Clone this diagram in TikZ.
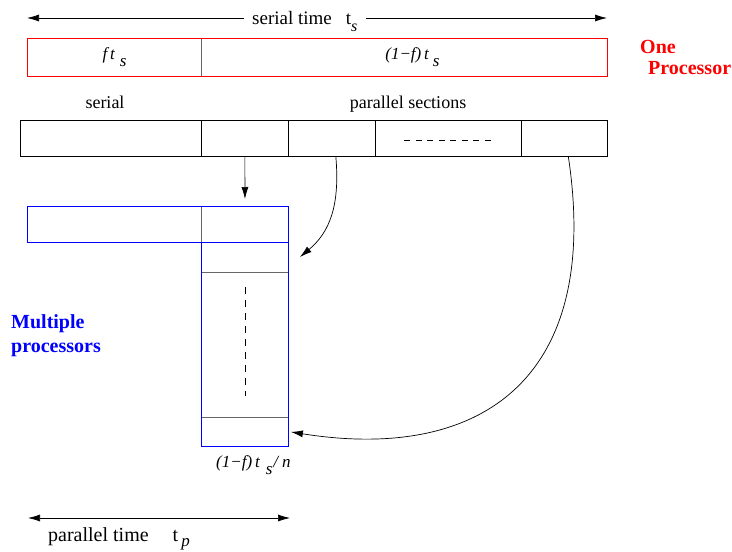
\documentclass[tikz,border=0pt]{standalone}
\usepackage{fontspec}
\setmainfont{Liberation Serif}
\newfontfamily\tmsfont{Liberation Serif}
\usetikzlibrary{arrows.meta}
\begin{document}
\begin{tikzpicture}[x=1pt,y=-1pt,
  >={Latex[length=12pt,width=7pt]},
  cell/.style={draw=black!60, line width=0.9pt, inner sep=0pt, anchor=north west},
  rowcell/.style={draw=black, line width=0.7pt, inner sep=0pt, anchor=north west},
  lbl/.style={font=\tmsfont\fontsize{18}{21}\selectfont, inner sep=0pt},
  itl/.style={font=\tmsfont\fontsize{17}{20}\selectfont\itshape, inner sep=0pt},
  boldlbl/.style={font=\tmsfont\fontsize{20}{23}\selectfont\bfseries, align=left, inner sep=0pt},
  conn/.style={->, line width=0.7pt}]
\useasboundingbox (0,0) rectangle (732,552);

% top arrow: serial time
\coordinate (tl) at (27,18);
\coordinate (tr) at (607,18);
\node[lbl, font=\tmsfont\fontsize{19}{22}\selectfont, inner xsep=8pt, anchor=base west] (ts) at (244,24)
  {serial time\hspace{14pt}t\raisebox{-7pt}{\fontsize{16}{16}\selectfont\itshape s}};
\draw[<-, line width=0.7pt] (tl) -- (ts.west |- tl);
\draw[->, line width=0.7pt] (ts.east |- tr) -- (tr);

% one processor box
\node[cell, minimum width=174pt, minimum height=38pt, itl] (r0) at (27,38)
  {f\,t\hspace{5pt}\raisebox{-7pt}{s}};
\node[cell, minimum width=406pt, minimum height=38pt, itl] (r1) at (201,38)
  {\hspace*{16pt}(1−f)\,t\hspace{4pt}\raisebox{-7pt}{s}};
\draw[red, line width=1pt] (r0.north west) rectangle (r1.south east);
\node[boldlbl, red, anchor=north west] (onep) at (640,40) {One\\[-2pt]\hspace{8pt}Processor};

% second row
\node[lbl, anchor=base] (serl) at (105,108) {serial};
\node[lbl, anchor=base] (parl) at (408,108) {parallel sections};
\node[rowcell, minimum width=181pt, minimum height=36pt] (s0) at (20,120) {};
\node[rowcell, minimum width=87pt, minimum height=36pt] (s1) at (201,120) {};
\node[rowcell, minimum width=87pt, minimum height=36pt] (s2) at (288,120) {};
\node[rowcell, minimum width=146pt, minimum height=36pt] (s3) at (375,120) {};
\node[rowcell, minimum width=86pt, minimum height=36pt] (s4) at (521,120) {};
\draw[line width=0.6pt, dash pattern=on 6pt off 5.5pt] (404,140) -- (494,140);

% multiple processors
\node[cell, minimum width=174pt, minimum height=36pt] (b0) at (27,206) {};
\node[cell, minimum width=87pt, minimum height=36pt] (b1) at (201,206) {};
\node[cell, minimum width=87pt, minimum height=30pt] (p1) at (201,242) {};
\node[cell, minimum width=87pt, minimum height=145pt] (p2) at (201,272) {};
\node[cell, minimum width=87pt, minimum height=29pt] (p3) at (201,417) {};
\draw[blue, line width=1pt] (b0.north west) rectangle (b1.south east);
\draw[blue, line width=1pt] (p1.north west) rectangle (p3.south east);
\draw[line width=0.6pt, dash pattern=on 7pt off 6pt] (245,287) -- (245,396);
\node[boldlbl, blue, anchor=north west] (mult) at (11,314) {Multiple\\[1pt]processors};
\node[itl, anchor=base west] (pn) at (216,467)
  {(1−f)\,t\hspace{6pt}\raisebox{-7pt}{s}\hspace{1pt}/\hspace{4pt}n};

% connectors
\coordinate (tipA) at (300,257);
\draw[conn] (s1.south) -- ([yshift=7pt]b1.north);
\draw[conn] ([xshift=4pt]s2.south) .. controls (340,205) and (330,232) .. (tipA);
\draw[conn] ([xshift=4pt]s4.south) .. controls (602,380) and (480,462) .. ([xshift=2pt]p3.east);

% bottom arrow: parallel time
\coordinate (pl) at (28,518);
\coordinate (pr) at (290,518);
\draw[<->, line width=0.7pt] (pl) -- (pr);
\node[lbl, font=\tmsfont\fontsize{20}{23}\selectfont, anchor=base west] (tp) at (48,541)
  {parallel time\hspace{24pt}t\hspace{3pt}\raisebox{-5pt}{\fontsize{17}{17}\selectfont\itshape p}};
\end{tikzpicture}
\end{document}
